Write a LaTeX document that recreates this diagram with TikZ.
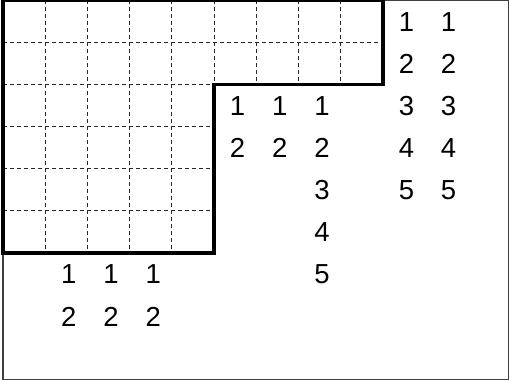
\documentclass[tikz,border=0pt]{standalone}
\usepackage{fontspec}
\setmainfont{Liberation Sans}
\begin{document}
\begin{tikzpicture}[x=1pt,y=-1pt,
  grid/.style={line width=0.8pt,black!85,dash pattern=on 4pt off 3pt},
  thick border/.style={line width=3.6pt,black,line join=miter},
  frame/.style={line width=1.3pt,black!75},
  num/.style={inner sep=0pt,font=\fontsize{27.5}{30}\selectfont}]
\useasboundingbox (0,0) rectangle (511,381);
% outer frame
\draw[frame] (3,0.7) rectangle (508.3,379.3);
% dashed grid
\foreach \i in {1,...,8} \draw[grid] ({3+42.2*\i},0) -- ({3+42.2*\i},84.3);
\foreach \i in {1,...,4} \draw[grid] ({3+42.2*\i},84.3) -- ({3+42.2*\i},253);
\draw[grid] (3,42.15) -- (383,42.15);
\foreach \j in {2,...,5} \draw[grid] (3,{42.15*\j}) -- (214,{42.15*\j});
% thick staircase outline
\draw[thick border] (3,0.5) -- (383,0.5) -- (383,84.3) -- (214,84.3) -- (214,253) -- (3,253) -- cycle;
% right column numbers
\foreach \r/\t in {0/1,1/2,2/3,3/4,4/5}{
  \node[num] (ra\r) at ({3+42.2*9.5+2.5},{42.15*(\r+0.5)+0.5}) {\t};
  \node[num] (rb\r) at ({3+42.2*10.5+2.5},{42.15*(\r+0.5)+0.5}) {\t};
}
% middle numbers
\foreach \c in {5,6,7}{
  \node[num] (ma\c) at ({3+42.2*(\c+0.5)+2.5},{42.15*2.5+0.5}) {1};
  \node[num] (mb\c) at ({3+42.2*(\c+0.5)+2.5},{42.15*3.5+0.5}) {2};
}
\node[num] (m3) at ({3+42.2*7.5+2.5},{42.15*4.5+0.5}) {3};
\node[num] (m4) at ({3+42.2*7.5+2.5},{42.15*5.5+0.5}) {4};
\node[num] (m5) at ({3+42.2*7.5+2.5},{42.15*6.5+0.5}) {5};
% bottom numbers
\foreach \c in {1,2,3}{
  \node[num] (ba\c) at ({3+42.2*(\c+0.5)+2.5},{42.15*6.5+0.5}) {1};
  \node[num] (bb\c) at ({3+42.2*(\c+0.5)+2.5},{42.15*7.5+0.5}) {2};
}
\end{tikzpicture}
\end{document}
